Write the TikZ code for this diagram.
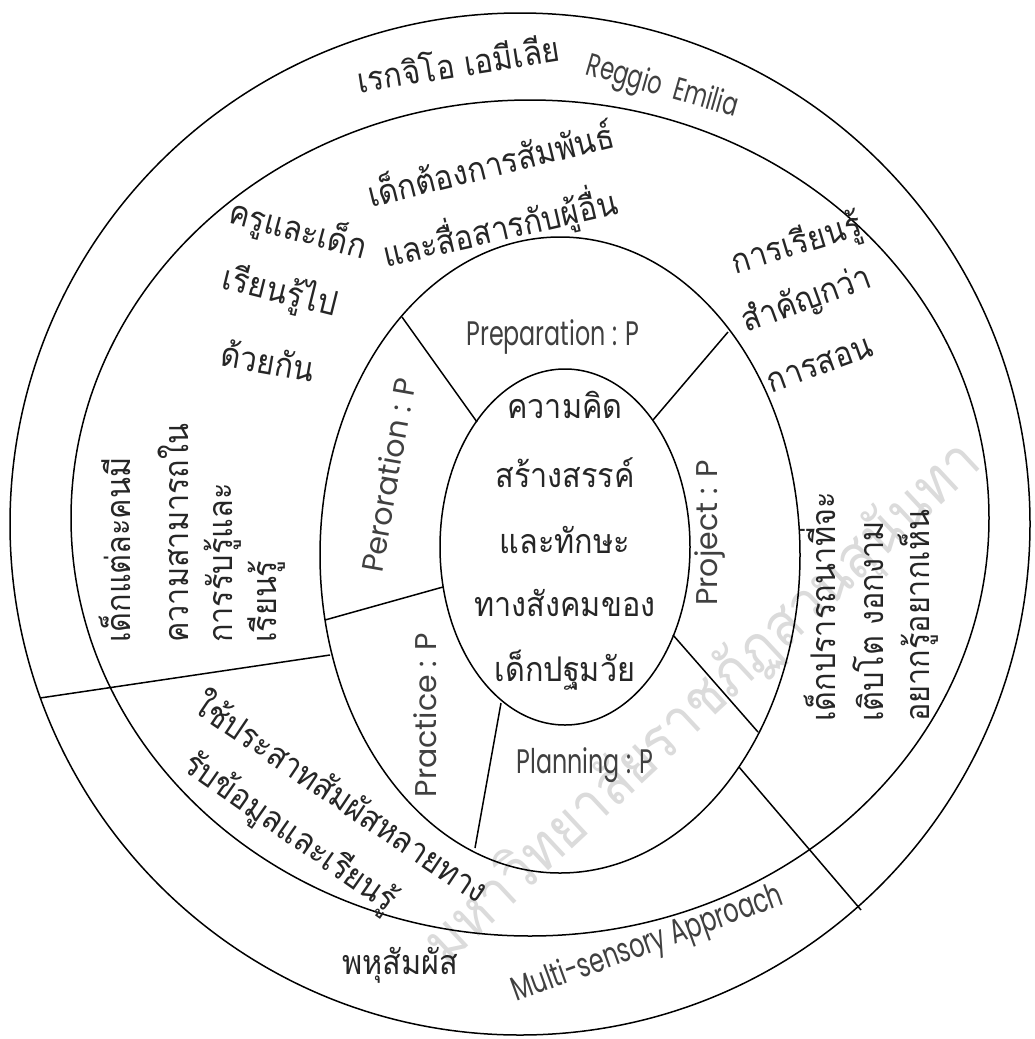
\documentclass[tikz,border=0pt]{standalone}
\usepackage{fontspec}
\usetikzlibrary{shapes.geometric}
\newfontfamily\thai[Script=Thai,FakeStretch=0.9]{Loma}
\newfontfamily\lat[FakeStretch=0.7]{Poppins}
\newfontfamily\latw{Poppins}
\begin{document}
\begin{tikzpicture}[x=1pt,y=-1pt,
  ring/.style={draw=black, line width=1.5pt, ellipse, inner sep=0pt, outer sep=0pt},
  sep/.style={draw=black, line width=1.5pt},
  th/.style={font=\thai\fontsize{34}{34}\selectfont, text=black!85, inner sep=0pt},
  la/.style={font=\lat\fontsize{34}{34}\selectfont, text=black!75, inner sep=0pt},
  lw/.style={font=\latw\fontsize{30}{30}\selectfont, text=black!75, inner sep=0pt},
  col/.style={th, rotate=90, anchor=west},
  wm/.style={font=\thai\fontsize{60}{60}\selectfont, text=black!14, inner sep=0pt}]
\useasboundingbox (0,0) rectangle (1034,1039);
\fill[white] (0,0) rectangle (1034,1039);
% watermark
\node[wm, rotate=43, anchor=west] (wmark) at (435,955) {มหาวิทยาลัยราชภัฏสวนสุนันทา};
% rings
\node[ring, minimum width=1020pt, minimum height=1022pt] (outer) at (520,524) {};
\node[ring, minimum width=918pt, minimum height=836pt] (mid) at (530,518) {};
\node[ring, minimum width=480pt, minimum height=636pt] (pring) at (560,555) {};
\node[ring, minimum width=250pt, minimum height=356pt] (core) at (565,547) {};
% separators
\coordinate (a1) at (402,317); \coordinate (a2) at (477,422);
\coordinate (b1) at (728,332); \coordinate (b2) at (653,420);
\coordinate (c1) at (443,587); \coordinate (c2) at (325,620);
\coordinate (d1) at (330,655); \coordinate (d2) at (40,698);
\coordinate (e1) at (501,703); \coordinate (e2) at (475,848);
\coordinate (f1) at (673,635); \coordinate (f2) at (758,732);
\coordinate (g1) at (739,767); \coordinate (g2) at (861,910);
\draw[sep] (a1) -- (a2);
\draw[sep] (b1) -- (b2);
\draw[sep] (c1) -- (c2);
\draw[sep] (d1) -- (d2);
\draw[sep] (e1) -- (e2);
\draw[sep] (f1) -- (f2);
\draw[sep] (g1) -- (g2);
% outer band
\node[th, rotate=9] (t1) at (458,62) {เรกจิโอ เอมีเลีย};
\node[la, font=\lat\fontsize{32}{32}\selectfont, rotate=-16] (t2) at (662,88) {Reggio\ \ Emilia};
\node[th] (t3) at (400,965) {พหุสัมผัส};
\node[la, rotate=20] (t4) at (648,945) {Multi-sensory Approach};
% middle band
\node[th, rotate=14] (m1) at (490,162) {เด็กต้องการสัมพันธ์};
\node[th, rotate=13] (m2) at (500,228) {และสื่อสารกับผู้อื่น};
\node[th, rotate=-15] (m3) at (298,230) {ครูและเด็ก};
\node[th, rotate=-14] (m4) at (280,292) {เรียนรู้ไป};
\node[th, rotate=-10] (m5) at (268,360) {ด้วยกัน};
\node[th, rotate=17] (m6) at (797,245) {การเรียนรู้};
\node[th, rotate=20] (m7) at (807,300) {สำคัญกว่า};
\node[th, rotate=20] (m8) at (820,365) {การสอน};
\node[col] (l1) at (115,643) {เด็กแต่ละคนมี};
\node[col] (l2) at (173,643) {ความสามารถใน};
\node[col] (l3) at (223,643) {การรับรู้และ};
\node[col] (l4) at (267,643) {เรียนรู้};
\node[col] (r1) at (818,722) {เด็กปรารถนาที่จะ};
\node[col] (r2) at (868,722) {เติบโต งอกงาม};
\node[col] (r3) at (918,722) {อยากรู้อยากเห็น};
\node[th, rotate=-34] (s1) at (343,795) {ใช้ประสาทสัมผัสหลายทาง};
\node[th, rotate=-35] (s2) at (290,833) {รับข้อมูลและเรียนรู้};
% P ring
\node[la] (p1) at (553,337) {Preparation : P};
\node[lw, rotate=80] (p2) at (388,475) {Peroration : P};
\node[lw, rotate=90] (p3) at (710,533) {Project : P};
\node[lw, rotate=90] (p4) at (425,715) {Practice : P};
\node[la] (p5) at (585,765) {Planning : P};
% core
\node[th] (c01) at (565,405) {ความคิด};
\node[th] (c02) at (565,473) {สร้างสรรค์};
\node[th] (c03) at (565,540) {และทักษะ};
\node[th] (c04) at (565,603) {ทางสังคมของ};
\node[th] (c05) at (565,670) {เด็กปฐมวัย};
\end{tikzpicture}
\end{document}
